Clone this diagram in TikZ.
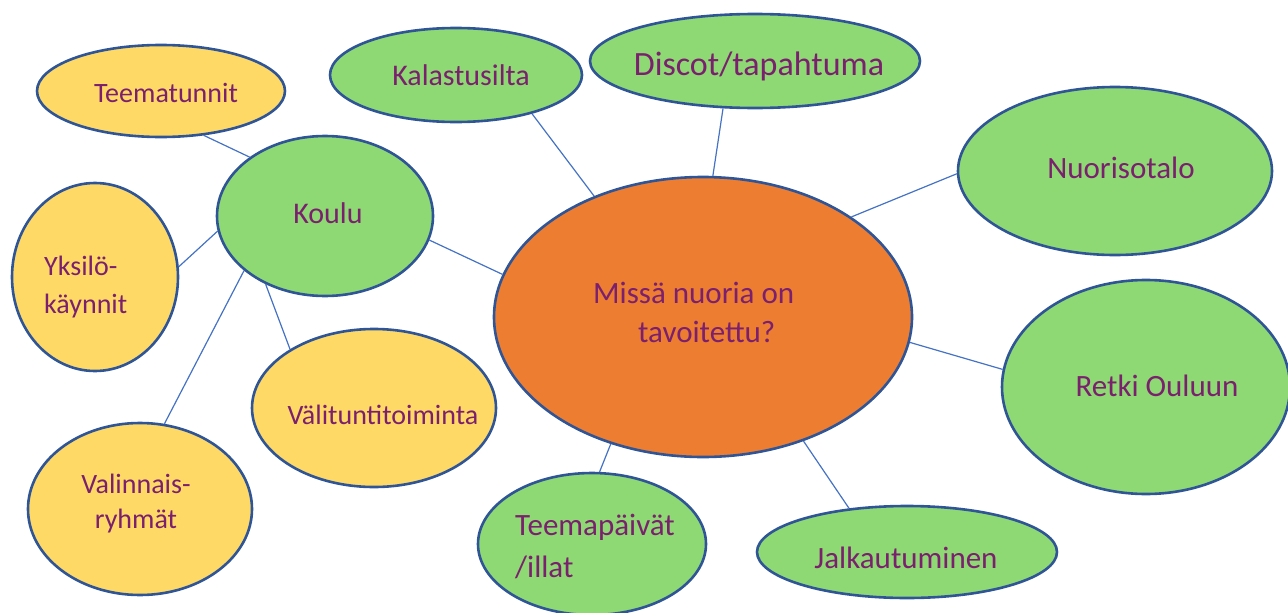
\documentclass[tikz,border=0pt]{standalone}
\usepackage{fontspec}
\setmainfont{Carlito}
\usetikzlibrary{shapes.geometric}
\definecolor{bord}{HTML}{2F5597}
\definecolor{conncol}{HTML}{4472C4}
\definecolor{yel}{HTML}{FFD966}
\definecolor{grn}{HTML}{8ED973}
\definecolor{org}{HTML}{ED7D31}
\definecolor{txtcol}{RGB}{122,32,110}
\tikzset{
  bub/.style={ellipse, draw=bord, line width=2.6pt, inner sep=0pt},
  ybub/.style={bub, fill=yel},
  gbub/.style={bub, fill=grn},
  obub/.style={bub, fill=org},
  conn/.style={draw=conncol, line width=1.2pt},
  lbl/.style={text=txtcol, inner sep=0pt},
}
\newcommand{\fs}[2]{\fontsize{#1}{#2}\selectfont}
\begin{document}
\begin{tikzpicture}[x=1pt,y=-1pt]
\useasboundingbox (0,0) rectangle (1288,613);
\clip (0,0) rectangle (1288,613);
% bubbles
\node[ybub, minimum width=248pt, minimum height=92pt] (tee) at (161,91) {};
\node[gbub, minimum width=216pt, minimum height=160pt] (kou) at (325,216) {};
\node[ybub, minimum width=166pt, minimum height=188pt] (yks) at (95,277) {};
\node[ybub, minimum width=244pt, minimum height=158pt] (val) at (374,408) {};
\node[ybub, minimum width=224pt, minimum height=172pt] (vry) at (140,509) {};
\node[gbub, minimum width=252pt, minimum height=94pt] (kal) at (456,75) {};
\node[gbub, minimum width=330pt, minimum height=94pt] (dis) at (755,61) {};
\node[gbub, minimum width=314pt, minimum height=168pt] (nuo) at (1115,171) {};
\node[gbub, minimum width=288pt, minimum height=214pt] (ret) at (1146,387) {};
\node[gbub, minimum width=300pt, minimum height=92pt] (jal) at (907,552) {};
\node[gbub, minimum width=228pt, minimum height=142pt] (tpa) at (592,544) {};
\node[obub, minimum width=418pt, minimum height=280pt] (mid) at (703,317) {};
% connectors
\draw[conn] (tee.-46) -- (kou.142);
\draw[conn] (kou.-172.5) -- (yks.7.5);
\draw[conn] (kou.-146.3) -- (vry.74.9);
\draw[conn] (kou.-131) -- (val.145.7);
\draw[conn] (kou.-13.4) -- (mid.168.2);
\draw[conn] (kal.-27.5) -- (mid.132);
\draw[conn] (dis.-124.8) -- (mid.86.3);
\draw[conn] (nuo.-179.3) -- (mid.34.5);
\draw[conn] (ret.173.2) -- (mid.-7.8);
\draw[conn] (jal.143.7) -- (mid.-51.1);
\draw[conn] (tpa.84.4) -- (mid.-126.8);
% labels
\node[lbl, font=\fs{28}{34}, anchor=base] (teeT) at (166,102) {Teematunnit};
\node[lbl, font=\fs{30}{36}, anchor=base] (kouT) at (328,223) {Koulu};
\node[lbl, font=\fs{28}{38}, anchor=base west, align=left] (yksT) at (44,313) {Yksilö-\\käynnit};
\node[lbl, font=\fs{28}{34}, anchor=base] (valT) at (383,424) {Välituntitoiminta};
\node[lbl, font=\fs{28}{35}, anchor=base, align=center] (vryT) at (136,528) {Valinnais-\\ryhmät};
\node[lbl, font=\fs{30}{36}, anchor=base] (kalT) at (461,85) {Kalastusilta};
\node[lbl, font=\fs{34}{40}, anchor=base] (disT) at (759,75) {Discot/tapahtuma};
\node[lbl, font=\fs{31}{37}, anchor=base] (nuoT) at (1121,178) {Nuorisotalo};
\node[lbl, font=\fs{31}{37}, anchor=base] (retT) at (1157,396) {Retki Ouluun};
\node[lbl, font=\fs{31}{37}, anchor=base] (jalT) at (906,568) {Jalkautuminen};
\node[lbl, font=\fs{31}{42}, anchor=base west, align=left] (tpaT) at (515,577) {Teemapäivät\\/illat};
\node[lbl, font=\fs{31}{39}, anchor=base west, align=left] (midT) at (593,342) {Missä nuoria on\\\hspace*{45pt}tavoitettu?};
\end{tikzpicture}
\end{document}
